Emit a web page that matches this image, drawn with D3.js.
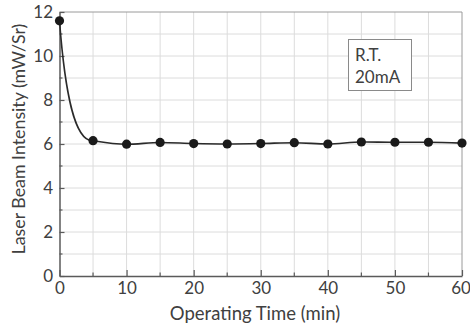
<!DOCTYPE html>
<html>
<head>
<meta charset="utf-8">
<script src="https://cdn.jsdelivr.net/npm/d3@7"></script>
<style>
  html, body { margin: 0; padding: 0; background: #fff; }
  svg { display: block; font-family: Lato, "Open Sans", sans-serif; }
</style>
</head>
<body>
<svg id="chart" width="470" height="327"></svg>
<script>
// ---- data ----
const times = [0, 5, 10, 15, 20, 25, 30, 35, 40, 45, 50, 55, 60];
const intensity = [11.6, 6.15, 5.99, 6.07, 6.02, 6.0, 6.02, 6.06, 6.0, 6.09, 6.08, 6.08, 6.04];
const xTicks = [0, 10, 20, 30, 40, 50, 60];
const yTicks = [0, 2, 4, 6, 8, 10, 12];
const legendLines = ["R.T.", "20mA"];
const xTitle = "Operating Time (min)";
const yTitle = "Laser Beam Intensity (mW/Sr)";

// ---- layout ----
const svg = d3.select("#chart");
const m = { left: 59.5, right: 462, top: 12, bottom: 276 };
const x = d3.scaleLinear().domain([0, 60]).range([m.left, m.right]);
const y = d3.scaleLinear().domain([0, 12]).range([m.bottom, m.top]);

const textCol = "#404040";

// grid
const g = svg.append("g");
g.selectAll("line.vg").data(d3.range(5, 60, 5)).join("line")
  .attr("x1", d => x(d)).attr("x2", d => x(d))
  .attr("y1", y(0)).attr("y2", y(12))
  .attr("stroke", "#dcdcdc").attr("stroke-width", 1);
g.selectAll("line.hg").data(d3.range(1, 12, 1)).join("line")
  .attr("y1", d => y(d)).attr("y2", d => y(d))
  .attr("x1", x(0)).attr("x2", x(60))
  .attr("stroke", "#dcdcdc").attr("stroke-width", 1);

// frame top/right
g.append("line").attr("x1", x(0)).attr("x2", x(60)).attr("y1", y(12)).attr("y2", y(12))
  .attr("stroke", "#9a9a9a").attr("stroke-width", 1);
g.append("line").attr("x1", x(60)).attr("x2", x(60)).attr("y1", y(0)).attr("y2", y(12))
  .attr("stroke", "#9a9a9a").attr("stroke-width", 1);

// axes
const xAxis = d3.axisBottom(x).tickValues(xTicks).tickSize(-6).tickPadding(5.5).tickSizeOuter(0);
const xa = svg.append("g").attr("transform", `translate(0,${y(0)})`).call(xAxis);
const yAxis = d3.axisLeft(y).tickValues(yTicks).tickSize(-5).tickPadding(6.5).tickSizeOuter(0);
const ya = svg.append("g").attr("transform", `translate(${x(0)},0)`).call(yAxis);
[xa, ya].forEach(a => {
  a.select(".domain").attr("stroke", "#5a5a5a").attr("stroke-width", 1.5);
  a.selectAll(".tick line").attr("stroke", "#5a5a5a").attr("stroke-width", 1.2);
  a.selectAll(".tick text").attr("fill", textCol).attr("font-size", 17)
    .attr("font-family", "Lato, 'Open Sans', sans-serif");
});
// keep the last x label inside the picture
xa.selectAll(".tick text").filter(d => d === 60).attr("dx", -1.5);
// minor ticks
svg.append("g").selectAll("line").data(d3.range(5, 60, 10)).join("line")
  .attr("x1", d => x(d)).attr("x2", d => x(d)).attr("y1", y(0)).attr("y2", y(0) - 3.5)
  .attr("stroke", "#5a5a5a").attr("stroke-width", 1.2);
svg.append("g").selectAll("line").data(d3.range(1, 12, 2)).join("line")
  .attr("y1", d => y(d)).attr("y2", d => y(d)).attr("x1", x(0)).attr("x2", x(0) + 3)
  .attr("stroke", "#5a5a5a").attr("stroke-width", 1.2);

// titles
svg.append("text").attr("x", 255).attr("y", 320).attr("text-anchor", "middle")
  .attr("fill", textCol).attr("font-size", 18.5).text(xTitle);
svg.append("text").attr("transform", `translate(25,139) rotate(-90)`).attr("text-anchor", "middle")
  .attr("fill", textCol).attr("font-size", 17.8).text(yTitle);

// line: first segment (rapid decay) as a bezier derived from the data, rest monotone
const pts = times.map((t, i) => [x(t), y(intensity[i])]);
const p = d3.path();
const [x0, y0] = pts[0], [x1, y1] = pts[1];
p.moveTo(x0, y0);
p.bezierCurveTo(x0 + 0.16 * (x1 - x0), y0 + 0.59 * (y1 - y0),
                x0 + 0.44 * (x1 - x0), y1 + 0.01 * (y1 - y0), x1, y1);
svg.append("path").attr("d", p.toString()).attr("fill", "none")
  .attr("stroke", "#2a2a2a").attr("stroke-width", 1.6);
const line = d3.line().x(d => d[0]).y(d => d[1]).curve(d3.curveMonotoneX);
svg.append("path").attr("d", line(pts.slice(1))).attr("fill", "none")
  .attr("stroke", "#2a2a2a").attr("stroke-width", 1.6);

// markers
svg.append("g").selectAll("circle").data(pts).join("circle")
  .attr("cx", d => d[0]).attr("cy", d => d[1]).attr("r", 4.6).attr("fill", "#1a1a1a");

// legend box
const lg = svg.append("g");
lg.append("rect").attr("x", 348.5).attr("y", 39.5).attr("width", 63).attr("height", 51)
  .attr("fill", "#fff").attr("stroke", "#8a8a8a").attr("stroke-width", 1);
lg.selectAll("text").data(legendLines).join("text")
  .attr("x", 355).attr("y", (d, i) => 61 + i * 21.5)
  .attr("fill", textCol).attr("font-size", 17).text(d => d);
</script>
</body>
</html>
